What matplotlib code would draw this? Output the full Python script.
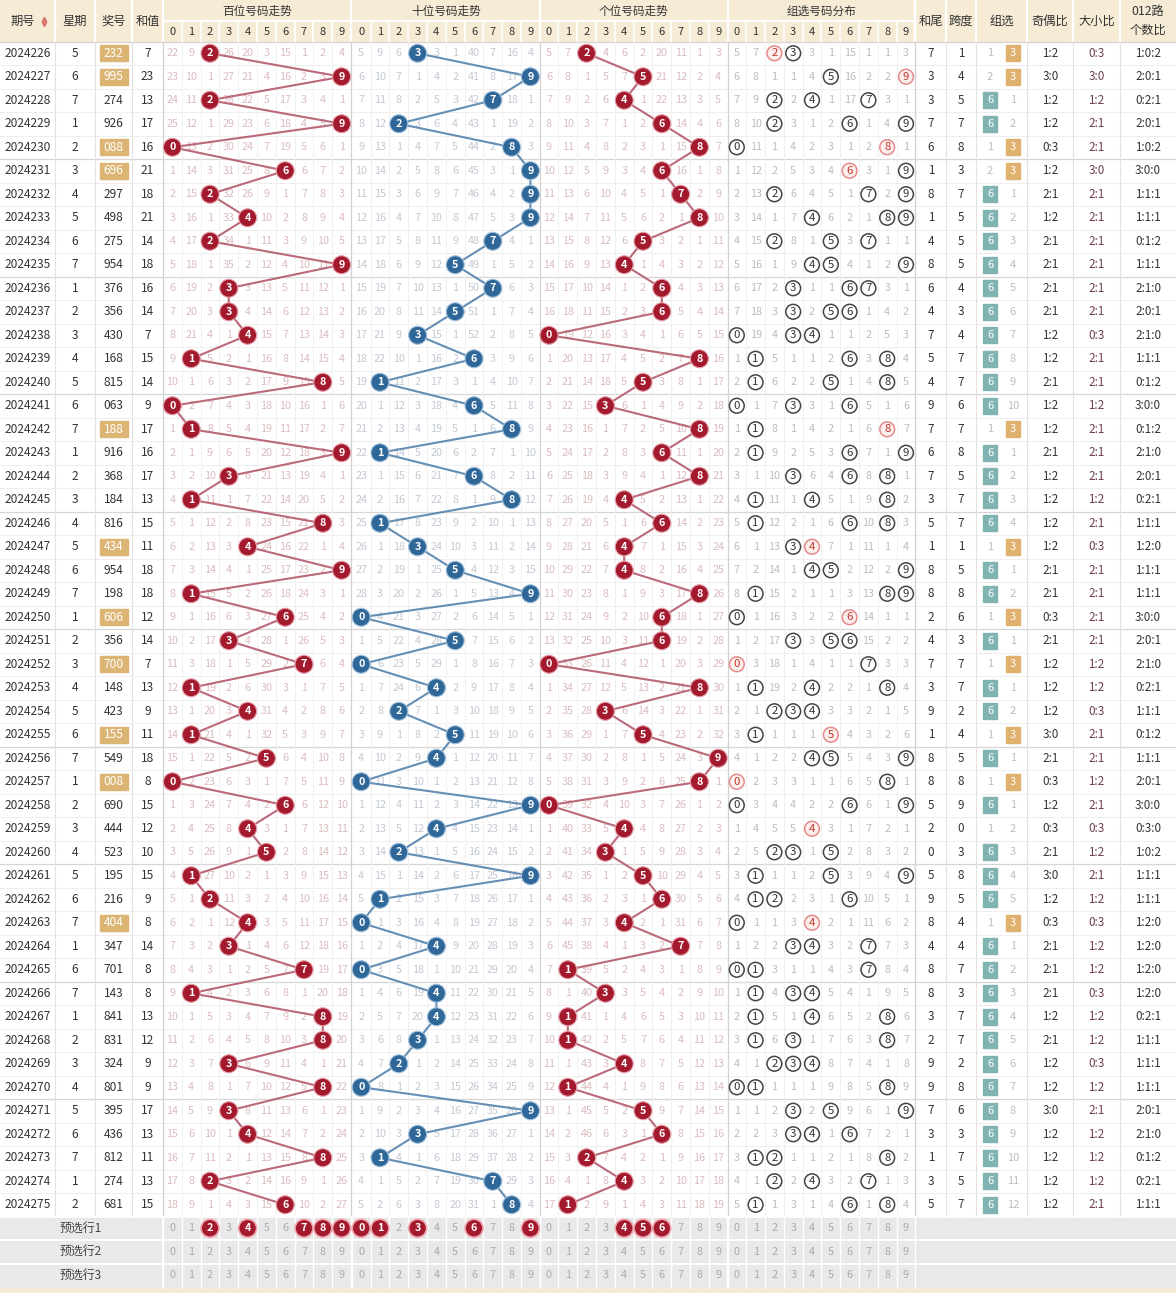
import numpy as np
import matplotlib.pyplot as plt
from matplotlib.patches import Rectangle, Circle

plt.rcParams['font.family'] = ['Noto Sans CJK SC', 'DejaVu Sans']

# ---------------- data ----------------
issues = list(range(2024226, 2024276))
weekdays = [5, 6, 7, 1, 2, 3, 4, 5, 6, 7,
            1, 2, 3, 4, 5, 6, 7, 1, 2, 3,
            4, 5, 6, 7, 1, 2, 3, 4, 5, 6,
            7, 1, 2, 3, 4, 5, 6, 7, 1, 6,
            7, 1, 2, 3, 4, 5, 6, 7, 1, 2]
draws = ["232", "995", "274", "926", "088", "696", "297", "498", "275", "954",
         "376", "356", "430", "168", "815", "063", "188", "916", "368", "184",
         "816", "434", "954", "198", "606", "356", "700", "148", "423", "155",
         "549", "008", "690", "444", "523", "195", "216", "404", "347", "701",
         "143", "841", "831", "324", "801", "395", "436", "812", "274", "681"]

# omission values shown in the first row (hit cells = 0)
first_bai = [22, 9, 0, 26, 20, 3, 15, 1, 2, 4]
first_shi = [5, 9, 6, 0, 3, 1, 40, 7, 16, 4]
first_ge = [5, 7, 0, 4, 6, 2, 20, 11, 1, 3]
first_zu = [5, 7, 0, 0, 3, 1, 15, 1, 1, 3]

# 预选行1 highlighted digits
pre_bai = [2, 4, 7, 8, 9]
pre_shi = [0, 1, 3, 6, 9]
pre_ge = [4, 5, 6]

sections = ["百位号码走势", "十位号码走势", "个位号码走势", "组选号码分布"]
footer_labels = ["预选行1", "预选行2", "预选行3"]

# ---------------- derived tables ----------------
digits = [[int(c) for c in s] for s in draws]
n = len(draws)


def omission(first, hit_fn):
    out = []
    prev = None
    for r in range(n):
        row = []
        for d in range(10):
            if hit_fn(r, d):
                row.append(0)
            elif prev is None:
                row.append(first[d])
            else:
                row.append(prev[d] + 1)
        out.append(row)
        prev = row
    return out


om = [omission(first_bai, lambda r, d: digits[r][0] == d),
      omission(first_shi, lambda r, d: digits[r][1] == d),
      omission(first_ge, lambda r, d: digits[r][2] == d),
      omission(first_zu, lambda r, d: d in digits[r])]

# ---------------- layout ----------------
W, H = 1176, 1293
hdr_mid, hdr_bot = 21, 41.5
rh = 23.5
cw = 18.8
sec_x0 = [163, 351.8, 539.6, 727.4]
left_edges = [0, 55, 95, 132, 163]
right_edges = [915.4, 946, 976, 1027, 1073, 1120, 1176]
data_bot = hdr_bot + rh * n
foot_bot = data_bot + rh * 3

fig = plt.figure(figsize=(W / 100, H / 100), dpi=100)
ax = fig.add_axes([0, 0, 1, 1])
ax.set_xlim(0, W)
ax.set_ylim(H, 0)
ax.axis('off')

beige = '#f6ecd6'
txt = '#333333'
red = '#a3192d'
blue = '#2e6798'

# header
ax.add_patch(Rectangle((0, 0), W, hdr_bot, color=beige, zorder=0))
ax.add_patch(Rectangle((0, foot_bot), W, H - foot_bot, color=beige, zorder=0))
for x in left_edges[1:] + right_edges[:-1]:
    ax.plot([x, x], [0, hdr_bot], color='white', lw=1.6, zorder=1)
for s in range(4):
    ax.plot([sec_x0[s] + 10 * cw, sec_x0[s] + 10 * cw], [0, hdr_bot], color='white', lw=1.6, zorder=1)
    for d in range(1, 10):
        x = sec_x0[s] + d * cw
        ax.plot([x, x], [hdr_mid, hdr_bot], color='white', lw=1.2, zorder=1)
    ax.text(sec_x0[s] + 5 * cw, 11, sections[s], ha='center', va='center', fontsize=8.4, color=txt)
    for d in range(10):
        ax.text(sec_x0[s] + (d + 0.5) * cw, 32, str(d), ha='center', va='center', fontsize=8, color=txt)
ax.plot([163, 915.4], [hdr_mid, hdr_mid], color='white', lw=1.4, zorder=1)

left_titles = ["期号", "星期", "奖号", "和值"]
for i, t in enumerate(left_titles):
    xc = (left_edges[i] + left_edges[i + 1]) / 2
    if i == 0:
        xc -= 5
    ax.text(xc, 21, t, ha='center', va='center', fontsize=8.8, color=txt)
ax.plot([43.5], [18.5], marker='^', ms=3.2, color='#d9776f', zorder=2)
ax.plot([43.5], [23.5], marker='v', ms=3.2, color='#d9776f', zorder=2)
right_titles = ["和尾", "跨度", "组选", "奇偶比", "大小比", "012路\n个数比"]
for i, t in enumerate(right_titles):
    xc = (right_edges[i] + right_edges[i + 1]) / 2
    ax.text(xc, 21, t, ha='center', va='center', fontsize=8.8, color=txt, linespacing=1.5)

# data grid
for r in range(n + 1):
    y = hdr_bot + r * rh
    dark = (r % 5 == 0)
    ax.plot([0, W], [y, y], color='#d6d6d6' if dark else '#eeeeee', lw=0.9 if dark else 0.7, zorder=1)
for x in left_edges[1:] + right_edges[:-1]:
    ax.plot([x, x], [hdr_bot, data_bot], color='#e2e2e2', lw=0.8, zorder=1)
for s in range(4):
    for d in range(1, 11):
        x = sec_x0[s] + d * cw
        ax.plot([x, x], [hdr_bot, data_bot], color='#d2d2d2' if d == 10 else '#f0f0f0',
                lw=0.9 if d == 10 else 0.7, zorder=1)
ax.plot([163, 163], [hdr_bot, data_bot], color='#d2d2d2', lw=0.9, zorder=1)

om_colors = ['#dbbcc0', '#c4c9d2', '#dbbcc0', '#bdbdbd']
ball_colors = [red, blue, red]
line_colors = ['#b45a6c', '#5483ad', '#b45a6c']
ball_edges = ['#e6a0aa', '#a4c2dc', '#e6a0aa']

z6 = 0
z3 = 0
for r in range(n):
    yc = hdr_bot + (r + 0.5) * rh
    dg = digits[r]
    ax.text(27.5, yc, str(issues[r]), ha='center', va='center', fontsize=8.6, color=txt)
    ax.text(75, yc, str(weekdays[r]), ha='center', va='center', fontsize=8.6, color=txt)
    kinds = len(set(dg))
    if kinds == 2:
        ax.add_patch(Rectangle((99.5, yc - 8), 28, 16, color='#dcb574', zorder=2))
        ax.text(113.5, yc, draws[r], ha='center', va='center', fontsize=8.6, color='white', zorder=3)
    else:
        ax.text(113.5, yc, draws[r], ha='center', va='center', fontsize=8.6, color=txt)
    total = sum(dg)
    ax.text(147.5, yc, str(total), ha='center', va='center', fontsize=8.6, color=txt)

    # omission numbers and 组选 distribution
    for s in range(4):
        for d in range(10):
            xc = sec_x0[s] + (d + 0.5) * cw
            v = om[s][r][d]
            if v == 0:
                if s == 3:
                    if dg.count(d) >= 2:
                        ax.add_patch(Circle((xc, yc), 7.4, facecolor='#fdeeee', edgecolor='#e48a8a', lw=1.1, zorder=4))
                        ax.text(xc, yc, str(d), ha='center', va='center', fontsize=8.2, color='#c0392b', zorder=5)
                    else:
                        ax.add_patch(Circle((xc, yc), 7.4, facecolor='white', edgecolor='#444444', lw=1.1, zorder=4))
                        ax.text(xc, yc, str(d), ha='center', va='center', fontsize=8.2, color=txt, zorder=5)
                continue
            ax.text(xc, yc, str(v), ha='center', va='center', fontsize=7.8, color=om_colors[s], zorder=2)

    # right columns
    ax.text(931, yc, str(total % 10), ha='center', va='center', fontsize=8.4, color=txt)
    ax.text(961, yc, str(max(dg) - min(dg)), ha='center', va='center', fontsize=8.4, color=txt)
    if kinds == 3:
        z6 = 0
        z3 += 1
        ax.add_patch(Rectangle((983, yc - 8), 14, 16, color='#7fb4b2', zorder=2))
        ax.text(990, yc, '6', ha='center', va='center', fontsize=8, color='white', zorder=3)
        ax.text(1013, yc, str(z3), ha='center', va='center', fontsize=8, color='#bdbdbd')
    elif kinds == 2:
        z3 = 0
        z6 += 1
        ax.text(990, yc, str(z6), ha='center', va='center', fontsize=8, color='#bdbdbd')
        ax.add_patch(Rectangle((1006, yc - 8), 14, 16, color='#e0b16e', zorder=2))
        ax.text(1013, yc, '3', ha='center', va='center', fontsize=8, color='white', zorder=3)
    else:
        z3 += 1
        z6 += 1
        ax.text(990, yc, str(z6), ha='center', va='center', fontsize=8, color='#bdbdbd')
        ax.text(1013, yc, str(z3), ha='center', va='center', fontsize=8, color='#bdbdbd')
    odd = sum(d % 2 for d in dg)
    big = sum(d >= 5 for d in dg)
    mods = [sum(d % 3 == k for d in dg) for k in range(3)]
    ax.text(1050.5, yc, f"{odd}:{3 - odd}", ha='center', va='center', fontsize=8.4, color=txt)
    ax.text(1096.5, yc, f"{big}:{3 - big}", ha='center', va='center', fontsize=8.4, color='#6e3f48')
    ax.text(1148, yc, ":".join(str(m) for m in mods), ha='center', va='center', fontsize=8.4, color=txt)

# trend lines and balls
ys = [hdr_bot + (r + 0.5) * rh for r in range(n)]
for s in range(3):
    xs = [sec_x0[s] + (digits[r][s] + 0.5) * cw for r in range(n)]
    ax.plot(xs, ys, color=line_colors[s], lw=1.5, alpha=0.9, zorder=3)
    for r in range(n):
        ax.add_patch(Circle((xs[r], ys[r]), 9.0, facecolor=ball_colors[s], edgecolor=ball_edges[s], lw=0.8, zorder=4))
        ax.text(xs[r], ys[r], str(digits[r][s]), ha='center', va='center', fontsize=7.8,
                fontweight='bold', color='white', zorder=5)

# footer rows
ax.add_patch(Rectangle((0, data_bot), W, foot_bot - data_bot, color='#e9e9e9', zorder=0))
for k in range(3):
    y0 = data_bot + k * rh
    yc = y0 + rh / 2
    ax.plot([0, W], [y0, y0], color='white', lw=1.4, zorder=1)
    ax.text(81, yc, footer_labels[k], ha='center', va='center', fontsize=8.6, color='#444444')
    picks = [pre_bai, pre_shi, pre_ge, []] if k == 0 else [[], [], [], []]
    for s in range(4):
        for d in range(10):
            xc = sec_x0[s] + (d + 0.5) * cw
            if d in picks[s]:
                ax.add_patch(Circle((xc, yc), 9.0, facecolor=red, edgecolor='#f0a8b0', lw=1.2, zorder=4))
                ax.text(xc, yc, str(d), ha='center', va='center', fontsize=7.8, fontweight='bold',
                        color='white', zorder=5)
            else:
                ax.text(xc, yc, str(d), ha='center', va='center', fontsize=7.8, color='#aaaaaa')
for s in range(4):
    for d in range(11):
        x = sec_x0[s] + d * cw
        ax.plot([x, x], [data_bot, foot_bot], color='white', lw=1.0, zorder=1)
ax.plot([163, 163], [data_bot, foot_bot], color='white', lw=1.4, zorder=1)

fig.savefig("out.png", dpi=100)
